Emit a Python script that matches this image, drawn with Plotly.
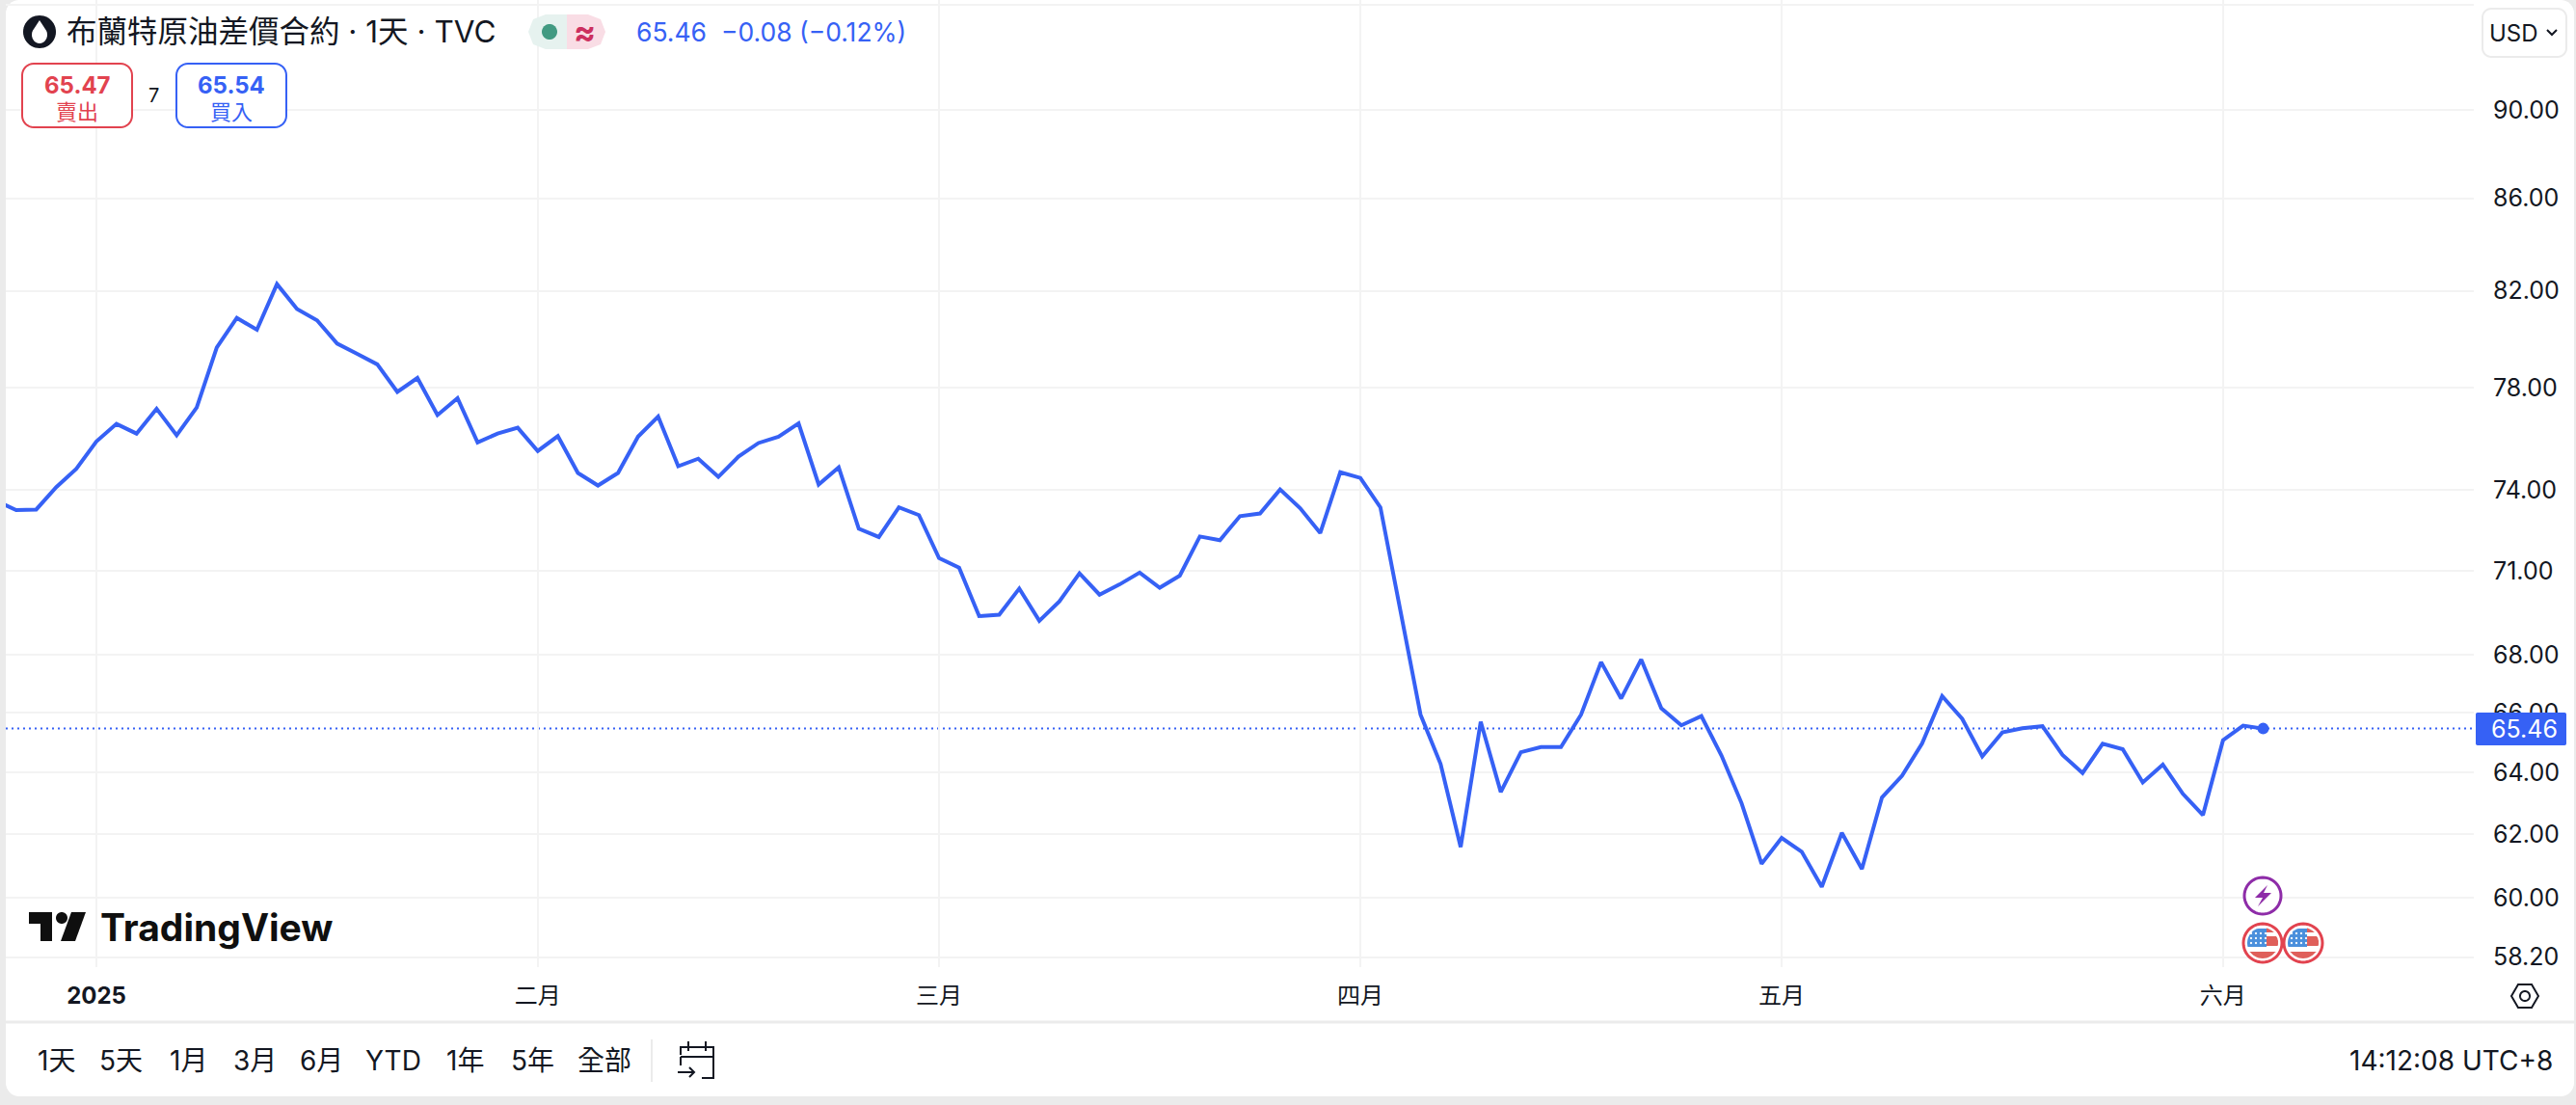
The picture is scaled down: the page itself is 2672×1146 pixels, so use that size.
import math
import numpy as np
import pandas as pd
import plotly.graph_objects as go

W, H = 2672, 1146
FONT = "Inter, 'Noto Sans CJK TC', sans-serif"
INK = "#131722"
BLUE = "#3661F5"
RED = "#E2434F"
GRID = "#F3F3F3"
BORDER = "#EBEBEB"

holidays = ["2024-12-25", "2025-01-01", "2025-04-18"]
dates = [d.strftime("%Y-%m-%d") for d in pd.bdate_range("2024-12-24", "2025-06-04")
         if d.strftime("%Y-%m-%d") not in holidays]
prices = [
    73.60, 73.25, 73.27, 74.12, 74.82, 75.88, 76.57, 76.19, 77.17, 76.12,
    77.22, 79.64, 80.86, 80.37, 82.28, 81.23, 80.76, 79.80, 79.38, 78.95,
    77.84, 78.40, 76.92, 77.59, 75.84, 76.19, 76.42, 75.51, 76.09, 74.66,
    74.18, 74.66, 76.07, 76.86, 74.92, 75.21, 74.51, 75.29, 75.82, 76.07,
    76.59, 74.22, 74.88, 72.55, 72.24, 73.35, 73.06, 71.46, 71.11, 69.36,
    69.41, 70.35, 69.19, 69.89, 70.90, 70.13, 70.50, 70.93, 70.38, 70.82,
    72.26, 72.12, 73.02, 73.12, 74.03, 73.32, 72.39, 74.69, 74.47, 73.35,
    69.54, 65.93, 64.28, 61.59, 65.69, 63.36, 64.67, 64.84, 64.84, 65.93,
    67.74, 66.48, 67.83, 66.15, 65.57, 65.88, 64.56, 63.00, 61.06, 61.88,
    61.44, 60.34, 62.04, 60.90, 63.18, 63.89, 64.96, 66.56, 65.79, 64.53,
    65.33, 65.47, 65.54, 64.58, 63.98, 64.95, 64.77, 63.67, 64.26, 63.30,
    62.61, 65.07, 65.56, 65.46,
]
last_price = 65.46
y_ticks = [95, 90, 86, 82, 78, 74, 71, 68, 66, 64, 62, 60, 58.2]
y_labels = ["", "90.00", "86.00", "82.00", "78.00", "74.00", "71.00", "68.00",
            "66.00", "64.00", "62.00", "60.00", "58.20"]
x_ticks = ["2025-01-02", "2025-02-03", "2025-03-03", "2025-04-01", "2025-05-01", "2025-06-02"]
x_labels = ["<b>2025</b>", "二月", "三月", "四月", "五月", "六月"]
range_buttons = ["1天", "5天", "1月", "3月", "6月", "YTD", "1年", "5年", "全部"]
range_button_x = [58, 126, 195, 264, 333, 408, 483, 552, 627]


def X(x):
    return x / W


def Y(y):
    return 1 - y / H


def pth(points, close=True):
    s = "M" + " L".join(f"{X(a):.6f},{Y(b):.6f}" for a, b in points)
    return s + (" Z" if close else "")


def circle_pts(cx, cy, r, n=48):
    return [(cx + r * math.cos(2 * math.pi * k / n), cy + r * math.sin(2 * math.pi * k / n)) for k in range(n)]


def round_rect_pts(x0, y0, x1, y1, r):
    pts = []
    for cx, cy, a0 in [(x1 - r, y0 + r, -90), (x1 - r, y1 - r, 0), (x0 + r, y1 - r, 90), (x0 + r, y0 + r, 180)]:
        for k in range(9):
            a = math.radians(a0 + 90 * k / 8)
            pts.append((cx + r * math.cos(a), cy + r * math.sin(a)))
    return pts


shapes = []
annotations = []


def shape(points, fill=None, line=None, width=0, layer="above", close=True):
    shapes.append(dict(type="path", path=pth(points, close), xref="paper", yref="paper", layer=layer,
                       fillcolor=fill if fill else "rgba(0,0,0,0)",
                       line=dict(color=line if line else "rgba(0,0,0,0)", width=width)))


def text(x, y, s, size, color=INK, anchor="center"):
    annotations.append(dict(x=X(x), y=Y(y), xref="paper", yref="paper", text=s, showarrow=False,
                            xanchor=anchor, yanchor="middle", font=dict(family=FONT, size=size, color=color),
                            borderpad=0, borderwidth=0))


# page panel
shape(round_rect_pts(6, 0, 2670, 1137, 14), fill="#FFFFFF", layer="below")
# dotted last-price line
shapes.append(dict(type="line", xref="paper", yref="y", x0=X(6), x1=X(2566), y0=last_price, y1=last_price,
                   layer="below", line=dict(color=BLUE, width=2, dash="2px,4px")))
# footer separators
shape([(6, 1060), (2670, 1060)], line=BORDER, width=3, close=False)
shape([(676, 1078), (676, 1122)], line=BORDER, width=2, close=False)

# header
shape(circle_pts(41, 33, 17), fill="#131722")
drop = [(41, 21)] + [(41 + 8 * math.cos(a), 36 + 9 * math.sin(a)) for a in np.linspace(-0.5, math.pi + 0.5, 20)]
shape(drop, fill="#FFFFFF")
text(69, 33, "布蘭特原油差價合約 · 1天 · TVC", 31.5, anchor="left")
shape([(588, 15), (566, 15), (553, 20), (548, 33), (553, 46), (566, 51), (588, 51)], fill="#E6F2EF")
shape([(588, 15), (610, 15), (623, 20), (628, 33), (623, 46), (610, 51), (588, 51)], fill="#F9DDE5")
shape(circle_pts(570, 33, 8), fill="#429A82")
text(606, 33, "<b>≈</b>", 34, color="#CC2F5F")
text(660, 33, "65.46&nbsp;&nbsp;−0.08&nbsp;(−0.12%)", 26.5, color=BLUE, anchor="left")

# sell / buy boxes
shape(round_rect_pts(23, 66, 137, 132, 12), fill="#FFFFFF", line=RED, width=2)
text(80, 88, "<b>65.47</b>", 24, color=RED)
text(80, 116, "賣出", 22, color=RED)
text(159, 99, "7", 20)
shape(round_rect_pts(183, 66, 297, 132, 12), fill="#FFFFFF", line=BLUE, width=2)
text(240, 88, "<b>65.54</b>", 24, color=BLUE)
text(240, 116, "買入", 22, color=BLUE)

# USD button
shape(round_rect_pts(2575, 9, 2662, 59, 9), fill="#FFFFFF", line=BORDER, width=2)
text(2607, 34, "USD", 24)
shape([(2642, 31), (2647, 36), (2652, 31)], line=INK, width=2, close=False)

# last-price tag
shape(round_rect_pts(2568, 739, 2662, 773, 2), fill=BLUE)
text(2618, 756, "65.46", 25, color="#FFFFFF")

# event icons
shape(circle_pts(2347, 929, 19), fill="#FFFFFF", line="#8E2CA8", width=3)
shape([(2352, 918), (2339, 931), (2347, 931), (2342, 940), (2356, 926), (2348, 926)], fill="#8E2CA8")
for cx in (2347, 2389):
    cy = 978
    shape(circle_pts(cx, cy, 20), fill="#FFFFFF", line=RED, width=3)
    r = 16
    def clipped(x0, x1, y0, y1):
        return [(min(max(a, x0), x1), min(max(b, y0), y1)) for a, b in circle_pts(cx, cy, r)]
    shape(clipped(cx + 4, cx + 16, cy - 7, cy - 1), fill="#DF5F5A")
    shape(clipped(cx + 4, cx + 16, cy - 16, cy - 11), fill="#DF5F5A")
    shape(clipped(cx + 4, cx + 16, cy - 3, cy + 3), fill="#DF5F5A")
    shape(clipped(cx - 16, cx + 16, cy + 9, cy + 16), fill="#DF5F5A")
    shape(clipped(cx - 16, cx + 4, cy - 15, cy + 4), fill="#4A8FDC")
    for row in range(3):
        for col in range(4):
            shape(circle_pts(cx - 12 + col * 5, cy - 10 + row * 5, 1.2, n=8), fill="#FFFFFF")

# TradingView logo
shape([(30, 946), (54, 946), (54, 976), (42, 976), (42, 958), (30, 958)], fill="#0F0F0F")
shape(circle_pts(64, 952, 6), fill="#0F0F0F")
shape([(74, 946), (89, 946), (78, 976), (63, 976)], fill="#0F0F0F")
text(104, 961, "<b>TradingView</b>", 39, color="#0F0F0F", anchor="left")

# footer
for label, bx in zip(range_buttons, range_button_x):
    text(bx, 1100, label, 28)
shape([(706, 1094), (706, 1086), (740, 1086), (740, 1118), (728, 1118)], line=INK, width=2, close=False)
shape([(706, 1096), (740, 1096)], line=INK, width=2, close=False)
shape([(714, 1080), (714, 1090)], line=INK, width=2, close=False)
shape([(732, 1080), (732, 1090)], line=INK, width=2, close=False)
shape([(706, 1096), (706, 1105)], line=INK, width=2, close=False)
shape([(703, 1112), (720, 1112)], line=INK, width=2, close=False)
shape([(715, 1107), (720, 1112), (715, 1117)], line=INK, width=2, close=False)
text(2648, 1100, "14:12:08 UTC+8", 28, anchor="right")
shape([(2605, 1033), (2612, 1021), (2626, 1021), (2633, 1033), (2626, 1045), (2612, 1045)], line=INK, width=2)
shape(circle_pts(2619, 1033, 5), line=INK, width=2)

fig = go.Figure()
fig.add_trace(go.Scatter(x=dates, y=prices, mode="lines", line=dict(color=BLUE, width=4, shape="linear"),
                         hoverinfo="skip", showlegend=False))
fig.add_trace(go.Scatter(x=dates[-1:], y=prices[-1:], mode="markers", marker=dict(color=BLUE, size=12),
                         hoverinfo="skip", showlegend=False))

fig.update_layout(
    width=W, height=H, margin=dict(l=0, r=0, t=0, b=0, pad=0), autosize=False,
    paper_bgcolor=BORDER, plot_bgcolor="rgba(0,0,0,0)", showlegend=False,
    font=dict(family=FONT, size=24, color=INK),
    xaxis=dict(type="category", categoryorder="array", categoryarray=dates, automargin=False,
               domain=[X(6), X(2566)], range=[0.483, 123.5], tickmode="array", tickvals=x_ticks,
               ticktext=x_labels, showgrid=True, gridcolor=GRID, gridwidth=2, zeroline=False,
               showline=False, ticks="", ticklabelstandoff=13, tickangle=0,
               tickfont=dict(family=FONT, size=24, color=INK)),
    yaxis=dict(type="log", side="right", anchor="x", domain=[Y(1003), Y(0)], automargin=False,
               range=[math.log10(57.90), math.log10(95.23)], tickmode="array", tickvals=y_ticks,
               ticktext=y_labels, showgrid=True, gridcolor=GRID, gridwidth=2, zeroline=False,
               showline=False, ticks="", ticklabelstandoff=19,
               tickfont=dict(family=FONT, size=25, color=INK)),
    shapes=shapes, annotations=annotations,
)
fig.write_html("out.html", config=dict(displayModeBar=False),
               post_script="document.body.style.margin='0';document.body.style.background='#EBEBEB';")
